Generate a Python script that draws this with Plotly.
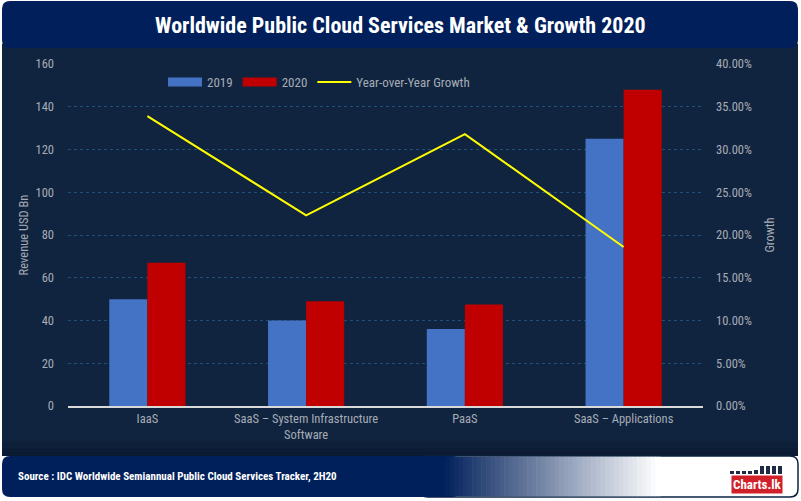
import plotly.graph_objects as go

categories = ["IaaS", "SaaS – System Infrastructure<br>Software", "PaaS", "SaaS – Applications"]
rev_2019 = [50.0, 40.0, 36.0, 125.0]
rev_2020 = [67.0, 49.0, 47.5, 148.0]
growth = [0.339, 0.223, 0.318, 0.186]

FONT = "Roboto Condensed, Liberation Sans Narrow, DejaVu Sans Condensed, Roboto, sans-serif"
GREY = "#a6acb6"
BLUE, RED, YELLOW = "#4472c4", "#c00000", "#ffff00"
W, H = 801, 501
ML, MR, MT, MB = 68, 98, 64, 95
PW, PH = W - ML - MR, H - MT - MB


def X(px):
    return (px - ML) / PW


def Y(py):
    return (H - MB - py) / PH


def rpath(x0, y0, x1, y1, r):
    return (f"M{X(x0+r):.5f},{Y(y0):.5f} L{X(x1-r):.5f},{Y(y0):.5f} Q{X(x1):.5f},{Y(y0):.5f} {X(x1):.5f},{Y(y0+r):.5f} "
            f"L{X(x1):.5f},{Y(y1-r):.5f} Q{X(x1):.5f},{Y(y1):.5f} {X(x1-r):.5f},{Y(y1):.5f} L{X(x0+r):.5f},{Y(y1):.5f} "
            f"Q{X(x0):.5f},{Y(y1):.5f} {X(x0):.5f},{Y(y1-r):.5f} L{X(x0):.5f},{Y(y0+r):.5f} "
            f"Q{X(x0):.5f},{Y(y0):.5f} {X(x0+r):.5f},{Y(y0):.5f} Z")


fig = go.Figure()
fig.add_trace(go.Bar(name="2019", x=categories, y=rev_2019, marker_color=BLUE, marker_line_width=0,
                     showlegend=False, legendgroup="2019"))
fig.add_trace(go.Bar(name="2020", x=categories, y=rev_2020, marker_color=RED, marker_line_width=0,
                     showlegend=False, legendgroup="2020"))
# legend entries drawn as wide swatches
fig.add_trace(go.Scatter(name="2019", x=[None], y=[None], mode="lines", line=dict(color=BLUE, width=9),
                         legendgroup="2019", hoverinfo="skip"))
fig.add_trace(go.Scatter(name="2020", x=[None], y=[None], mode="lines", line=dict(color=RED, width=9),
                         legendgroup="2020", hoverinfo="skip"))
fig.add_trace(go.Scatter(name="Year-over-Year Growth", x=categories, y=growth, yaxis="y2",
                         mode="lines", line=dict(color=YELLOW, width=2)))

shapes = []
shapes.append(dict(type="rect", xref="paper", yref="paper", x0=X(2), x1=X(798), y0=Y(456), y1=Y(44),
                   fillcolor="#11243f", line_width=0, layer="below"))
for i in range(10):
    ya = 440 + i * 1.6
    shapes.append(dict(type="rect", xref="paper", yref="paper", x0=X(2), x1=X(798),
                       y0=Y(ya + 1.7), y1=Y(ya), fillcolor="#08162a", opacity=min(1.0, 0.07 * (i + 1)),
                       line_width=0, layer="below"))
shapes.append(dict(type="path", xref="paper", yref="paper", layer="below", line_width=0,
                   fillcolor="#001f5b", path=rpath(2, 1, 798, 48, 8)))
shapes.append(dict(type="path", xref="paper", yref="paper", layer="below",
                   line=dict(color="#0b2244", width=1.5), fillcolor="white", path=rpath(420, 456, 798, 497, 8)))
shapes.append(dict(type="path", xref="paper", yref="paper", layer="below", line_width=0,
                   fillcolor="#00205b", path=rpath(2, 456, 460, 497, 8)))
steps = 48
x_start, x_end = 440, 660
for i in range(steps):
    t = i / (steps - 1)
    r = int(0 + 255 * t)
    g = int(32 + 223 * t)
    b = int(91 + 164 * t)
    xa = x_start + (x_end - x_start) * i / steps
    xb = x_start + (x_end - x_start) * (i + 1) / steps + 0.6
    shapes.append(dict(type="rect", xref="paper", yref="paper", layer="below", line_width=0,
                       fillcolor=f"rgb({r},{g},{b})", x0=X(xa), x1=X(xb), y0=Y(496.2), y1=Y(456.8)))
for j, hgt in enumerate([3, 3, 3, 3, 4, 8, 8, 8, 8]):
    x0 = 730 + j * 6
    shapes.append(dict(type="rect", xref="paper", yref="paper", line_width=0, fillcolor="#1f2a44",
                       x0=X(x0), x1=X(x0 + 4), y0=Y(474), y1=Y(474 - hgt)))

fig.update_layout(
    width=W, height=H,
    paper_bgcolor="white", plot_bgcolor="rgba(0,0,0,0)",
    margin=dict(l=ML, r=MR, t=MT, b=MB),
    barmode="group", bargap=0.52, bargroupgap=0,
    font=dict(family=FONT, color=GREY, size=12),
    showlegend=True,
    legend=dict(orientation="h", x=X(163), y=Y(67), xanchor="left", yanchor="top",
                bgcolor="rgba(0,0,0,0)", font=dict(family=FONT, size=13, color=GREY),
                traceorder="normal", itemwidth=34, tracegroupgap=0),
    xaxis=dict(showgrid=False, showline=True, linecolor="#d9d9d9", linewidth=1.5,
               tickfont=dict(family=FONT, size=12.5, color=GREY), ticks="", zeroline=False),
    yaxis=dict(range=[0, 160], dtick=20, showgrid=True, gridcolor="#1f4e79", griddash="dot",
               gridwidth=1, zeroline=False, tickfont=dict(family=FONT, size=12.5, color=GREY), ticks="",
               ticklabelstandoff=13,
               title=dict(text="Revenue USD Bn", font=dict(family=FONT, size=12.5, color=GREY), standoff=4)),
    yaxis2=dict(range=[0, 0.4], dtick=0.05, tickformat=".2%", overlaying="y", side="right",
                showgrid=False, zeroline=False, tickfont=dict(family=FONT, size=12.5, color=GREY), ticks="",
                ticklabelstandoff=12,
                title=dict(text="Growth", font=dict(family=FONT, size=12.5, color=GREY), standoff=14)),
    shapes=shapes,
)

fig.add_annotation(text="<b>Worldwide Public Cloud Services Market & Growth 2020</b>", xref="paper", yref="paper",
                   x=X(400), y=Y(25), xanchor="center", yanchor="middle", showarrow=False,
                   font=dict(family=FONT, size=22, color="white"))
fig.add_annotation(text="<b>Source : IDC Worldwide Semiannual Public Cloud Services Tracker, 2H20</b>",
                   xref="paper", yref="paper", x=X(16), y=Y(476), xanchor="left", yanchor="middle",
                   showarrow=False, font=dict(family=FONT, size=11, color="white"))
fig.add_annotation(text="<b>Charts.lk</b>", xref="paper", yref="paper", x=X(757), y=Y(485),
                   xanchor="center", yanchor="middle", showarrow=False, bgcolor="#d0202a",
                   borderpad=1, font=dict(family=FONT, size=13, color="white"))

fig.write_html("out.html", config={"displayModeBar": False},
               post_script="document.body.style.margin='0';document.body.style.overflow='hidden';")
